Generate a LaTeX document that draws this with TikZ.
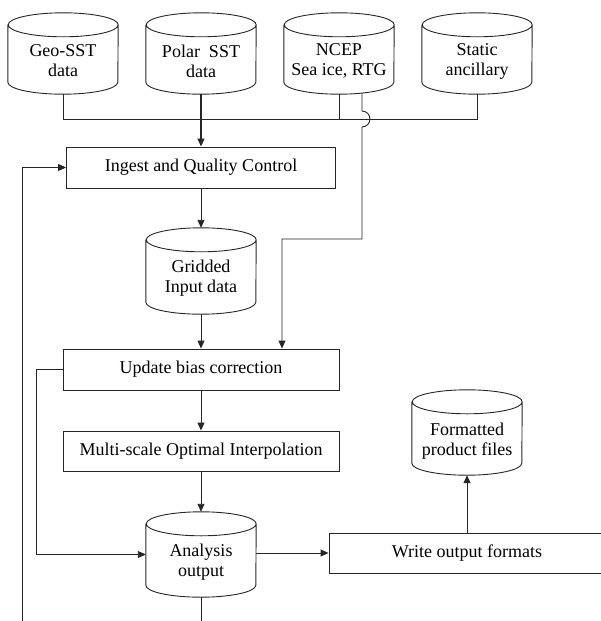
\documentclass[tikz,border=0pt]{standalone}
\usepackage{fontspec}
\setmainfont{Liberation Serif}
\usetikzlibrary{arrows.meta,calc}
\newcommand\cylout[1]{\draw[conn] ([yshift=-12pt]#1.north west) -- ([yshift=12pt]#1.south west) arc[start angle=180,end angle=360,x radius=55pt,y radius=12pt] -- ([yshift=-12pt]#1.north east) arc[start angle=0,end angle=360,x radius=55pt,y radius=12pt];}
\begin{document}
\begin{tikzpicture}[x=1pt,y=1pt,
  conn/.style={line width=0.9pt,draw=black!85},
  arr/.style={conn,-{Triangle[length=8pt,width=7pt]}},
  cylbox/.style={rectangle,inner sep=0pt,minimum width=110pt,draw=none},
  txt/.style={font=\fontsize{18}{20}\selectfont,align=center,inner sep=0pt},
  procbox/.style={rectangle,draw=black!85,line width=0.9pt,minimum height=41pt,inner sep=0pt,font=\fontsize{18}{20}\selectfont}]
\useasboundingbox (0,0) rectangle (601,-621);
% top data stores
\node[cylbox,minimum height=81pt] (geo) at (63,-53.5) {};
\node[cylbox,minimum height=81pt] (polar) at (201,-53.5) {};
\node[cylbox,minimum height=81pt] (ncep) at (339,-53.5) {};
\node[cylbox,minimum height=81pt] (static) at (477,-53.5) {};
\cylout{geo}\cylout{polar}\cylout{ncep}\cylout{static}
\node[txt] (geo-t) at ([yshift=-7.5pt]geo.center) {Geo-SST\\data};
\node[txt] (polar-t) at ([yshift=-7.5pt]polar.center) {Polar\ \ SST\\data};
\node[txt] (ncep-t) at ([yshift=-7.5pt]ncep.center) {NCEP\\Sea ice, RTG};
\node[txt] (static-t) at ([yshift=-7.5pt]static.center) {Static\\ancillary};
% process boxes
\node[procbox,minimum width=269pt] (ingest) at (201,-167.5) {Ingest and Quality Control};
\node[procbox,minimum width=276pt] (update) at (201,-369.5) {Update bias correction};
\node[procbox,minimum width=276pt,minimum height=40pt] (multi) at (201,-451) {Multi-scale Optimal Interpolation};
\node[procbox,minimum width=276pt,minimum height=40pt] (write) at (467,-553) {Write output formats};
% lower data stores
\node[cylbox,minimum height=86pt] (grid) at (201,-271) {};
\node[cylbox,minimum height=85pt] (anal) at (201,-554.5) {};
\node[cylbox,minimum height=85pt] (form) at (467,-432.5) {};
\cylout{grid}\cylout{anal}\cylout{form}
\node[txt] (grid-t) at ([yshift=-7.5pt]grid.center) {Gridded\\Input data};
\node[txt] (anal-t) at ([yshift=-7.5pt]anal.center) {Analysis\\output};
\node[txt] (form-t) at ([yshift=-8.5pt]form.center) {Formatted\\product files};
% coordinates
\coordinate (busR) at (477,-119);
\coordinate (ncepout) at (362,-93);
\coordinate (turn) at (282,-239);
\coordinate (loopbot) at (22,-630);
\coordinate (analbot) at (201,-630);
% connectors
\draw[conn] (geo.south) |- (busR) -- (static.south);
\draw[conn] (ncep.south) -- (ncep.south |- busR);
\draw[arr,line width=1.4pt] (polar.south) -- (ingest.north);
\draw[arr] (ncepout) -- ++(0,-18) arc[start angle=90,end angle=-90,radius=8pt] |- (turn) -- (turn |- update.north);
\draw[arr] (ingest.south) -- (grid.north);
\draw[arr] (grid.south) -- (update.north);
\draw[arr] (update.south) -- (multi.north);
\draw[arr] (multi.south) -- (anal.north);
\draw[arr] (anal.east |- write.west) -- (write.west);
\draw[arr] (update.west) -- ++(-26,0) |- (anal.west);
\draw[arr] (loopbot) |- (ingest.west);
\draw[conn] (anal.south) -- (analbot);
\draw[arr] (write.north) -- (form.south);
\end{tikzpicture}
\end{document}
